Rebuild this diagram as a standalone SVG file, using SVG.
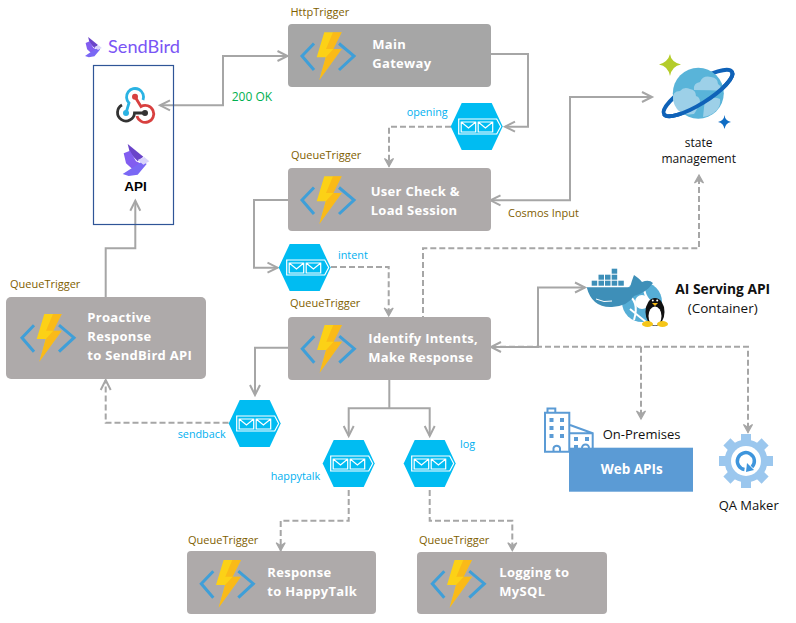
<svg xmlns="http://www.w3.org/2000/svg" xmlns:xlink="http://www.w3.org/1999/xlink" width="796" height="623" viewBox="0 0 796 623">
<style>
text{font-family:"Open Sans","Noto Sans","DejaVu Sans",sans-serif}
.box{fill:#aeaaaa}
.box2{fill:#a6a6a6}
.title{fill:#fff;font-weight:700;font-size:13px;letter-spacing:.3px}
.trig{fill:#7f6000;font-size:11px}
.q{fill:#00b0f0;font-size:10.8px}
.blk{fill:#111;font-size:12px}
.big{fill:#111;font-size:13px}
.s{fill:none;stroke:#a6a6a6;stroke-width:2}
.d{fill:none;stroke:#a6a6a6;stroke-width:2;stroke-dasharray:6 3}
</style>
<defs>
<marker id="o" markerUnits="userSpaceOnUse" markerWidth="14" markerHeight="14" refX="11" refY="6" orient="auto-start-reverse" overflow="visible"><path d="M1,1 L11,6 L1,11" fill="none" stroke="#a6a6a6" stroke-width="2"/></marker>
<marker id="a" markerUnits="userSpaceOnUse" markerWidth="14" markerHeight="14" refX="9" refY="5" orient="auto-start-reverse" overflow="visible"><path d="M1,.5 L9,5 L1,9.5 L4,5Z" fill="#a6a6a6" stroke="#a6a6a6" stroke-width="1.2"/></marker>
<g id="fn">
<path d="M26 19.500 L14 32 L26 46 M51 19.500 L66 32 L51 46" fill="none" stroke="#3f9fd8" stroke-width="3"/>
<path d="M36.300 8.300 H53.700 L45.300 25 H53.700 L31.300 56 L37.700 33.300 H28.700Z" fill="#fcd116"/>
<path d="M45 8.300 H53.700 L45.300 25 H38Z M45.300 25 H53.700 L31.300 56 L38 33Z" fill="#f7a81b" opacity=".55"/>
</g>
<g id="qu">
<path d="M-26 0 L-15 -23.500 H15 L26 0 L15 23.500 H-15Z" fill="#00bcf2"/>
<path d="M-18 -7.500 H20 L24 0 L20 7.500 H-18Z" fill="none" stroke="#fff" stroke-width="1.2"/>
<path d="M-15.500 -4.500 H-1 V5.500 H-15.500Z M-15.500 -4.500 L-8.200 1.500 L-1 -4.500 M1.500 -4.500 H16 V5.500 H1.500Z M1.500 -4.500 L8.700 1.500 L16 -4.500" fill="none" stroke="#fff" stroke-width="1.2"/>
</g>
<g id="bird">
<path d="M15 0 L62 38 L45 52 L22 28Z" fill="#6a43c9"/>
<path d="M3 28 L22 20 L40 52 L58 60 L32 78 L10 58Z" fill="#825df0"/>
<path d="M0 90 L28 72 L62 50 L72 60 L45 92 L18 96Z" fill="#7a68f5"/>
<path d="M45 48 L65 39 L80 52 L62 62Z" fill="#d9d4fb"/>
</g>
</defs>
<rect width="796" height="623" fill="#fff"/>

<g id="connectors">
<path class="s" d="M160 105.300 H223 V56 H287.500" marker-start="url(#o)" marker-end="url(#o)"/>
<path class="s" d="M491 54 H528 V126.700 H505" marker-end="url(#o)"/>
<path class="d" d="M451 126.700 H389 V166.500" marker-end="url(#a)"/>
<path class="s" d="M490.500 200.300 H570 V97 H652" marker-start="url(#o)" marker-end="url(#o)"/>
<path class="s" d="M288 200 H254 V267.700 H277.500" marker-end="url(#o)"/>
<path class="d" d="M331 267 H388.700 V316" marker-end="url(#a)"/>
<path class="d" d="M423 322 V248.300 H699 V175" marker-end="url(#a)"/>
<path class="s" d="M491 347 H538 V287.500 H585" marker-start="url(#o)" marker-end="url(#o)"/>
<path class="d" d="M500 346.800 H748 V432.500" marker-end="url(#a)"/>
<path class="d" d="M641 346.800 V419" marker-end="url(#a)"/>
<path class="s" d="M288 347.700 H255 V395" marker-end="url(#o)"/>
<path class="d" d="M228.500 422.700 H105.700 V380" marker-end="url(#o)"/>
<path class="s" d="M105.700 297 V248.300 H135.300 V200.700" marker-end="url(#o)"/>
<path class="s" d="M389.300 380 V408.300"/>
<path class="s" d="M348.700 436 V408.300 H429.700 V436" marker-start="url(#o)" marker-end="url(#o)"/>
<path class="d" d="M348.700 490 V520.700 H280.700 V550.700" marker-end="url(#a)"/>
<path class="d" d="M429.700 490 V520.700 H512.300 V550.700" marker-end="url(#a)"/>
</g>

<g id="sendbird">
<use xlink:href="#bird" href="#bird" transform="translate(85 37) scale(.21)"/>
<text x="108" y="53" font-size="18.200" fill="#7a55f5" style="font-family:Lato,'Open Sans',sans-serif">SendBird</text>
<rect x="93.500" y="65.500" width="80" height="159" fill="none" stroke="#2f5597" stroke-width="1.200"/>
<g fill="none" stroke-width="2.800">
<path d="M126 113 L129 103 A8.500 8.500 0 1 1 143 100" stroke="#2bb3e3"/>
<path d="M135 96.700 L141 106.500 A8.500 8.500 0 1 1 137 116" stroke="#d8403f"/>
<path d="M145 113 H134.500 A8.500 8.500 0 1 1 122 105" stroke="#333"/>
</g>
<circle cx="135" cy="96.700" r="3" fill="#d8403f"/><circle cx="126" cy="113" r="3" fill="#2bb3e3"/><circle cx="145" cy="113" r="3" fill="#333"/>
<use xlink:href="#bird" href="#bird" transform="translate(122.700 144) scale(.333)"/>
<text x="135.500" y="191" text-anchor="middle" font-size="13.500" font-weight="700" fill="#000" style="font-family:'Liberation Sans',sans-serif">API</text>
</g>

<g id="main-gateway">
<text class="trig" x="290.500" y="15.700">HttpTrigger</text>
<rect class="box2" x="288" y="24" width="203" height="63" rx="4"/>
<use xlink:href="#fn" href="#fn" transform="translate(288 24)"/>
<text class="title" x="372.300" y="49">Main</text><text class="title" x="372.300" y="68">Gateway</text>
</g>
<g id="user-check">
<text class="trig" x="291" y="159">QueueTrigger</text>
<rect class="box" x="288" y="168" width="203" height="63" rx="4"/>
<use xlink:href="#fn" href="#fn" transform="translate(288 168)"/>
<text class="title" x="370.700" y="195.700">User Check &amp;</text><text class="title" x="370.700" y="215">Load Session</text>
</g>
<g id="identify">
<text class="trig" x="290" y="306.700">QueueTrigger</text>
<rect class="box" x="288" y="317" width="203" height="63" rx="4"/>
<use xlink:href="#fn" href="#fn" transform="translate(288.300 316.700)"/>
<text class="title" x="368.300" y="343.300">Identify Intents,</text><text class="title" x="368.300" y="362.300">Make Response</text>
</g>
<g id="proactive">
<text class="trig" x="10" y="288">QueueTrigger</text>
<rect class="box" x="6" y="297" width="200" height="82" rx="5"/>
<use xlink:href="#fn" href="#fn" transform="translate(8 305.700)"/>
<text class="title" x="87.300" y="321.700">Proactive</text><text class="title" x="87.300" y="341">Response</text><text class="title" x="87.300" y="360">to SendBird API</text>
</g>
<g id="response-happytalk">
<text class="trig" x="188" y="544">QueueTrigger</text>
<rect class="box" x="187" y="551" width="189" height="63" rx="4"/>
<use xlink:href="#fn" href="#fn" transform="translate(187.300 551.700)"/>
<text class="title" x="267.300" y="576.700">Response</text><text class="title" x="267.300" y="595.700">to HappyTalk</text>
</g>
<g id="logging">
<text class="trig" x="419" y="544">QueueTrigger</text>
<rect class="box" x="417" y="552" width="190" height="62" rx="4"/>
<use xlink:href="#fn" href="#fn" transform="translate(418.300 551.700)"/>
<text class="title" x="499.300" y="576.700">Logging to</text><text class="title" x="499.300" y="596">MySQL</text>
</g>

<g id="queue-opening"><use xlink:href="#qu" href="#qu" transform="translate(476.700 126.500)"/><text class="q" x="406.700" y="115.700">opening</text></g>
<g id="queue-intent"><use xlink:href="#qu" href="#qu" transform="translate(304.700 267.500)"/><text class="q" x="338" y="258.700">intent</text></g>
<g id="queue-sendback"><use xlink:href="#qu" href="#qu" transform="translate(254.700 423.500)"/><text class="q" x="177.700" y="438">sendback</text></g>
<g id="queue-happytalk"><use xlink:href="#qu" href="#qu" transform="translate(348.700 463.500)"/><text class="q" x="270.700" y="480">happytalk</text></g>
<g id="queue-log"><use xlink:href="#qu" href="#qu" transform="translate(429.700 463.500)"/><text class="q" x="460" y="447.700">log</text></g>

<text x="231.700" y="100.700" font-size="12" fill="#00b050">200 OK</text>
<text class="trig" x="508" y="217">Cosmos Input</text>

<g id="state-management">
<ellipse cx="698" cy="93" rx="40" ry="11" transform="rotate(-32 698 93)" fill="none" stroke="#0f62b8" stroke-width="4"/>
<circle cx="698.300" cy="93.300" r="25.500" fill="#59b4d9"/>
<path d="M694 90 q-1 -7 6 -8 q3 -7 11 -5 q7 1 7 7 q4 3 3 7 q-9 -1 -27 -1Z" fill="#9dd0e8"/>
<path d="M673 100 q-1 -9 7 -9 q4 -5 10 -2 q6 1 6 7 q4 1 4 6 q-3 8 -6 12 q-12 2 -17 -5 q-3 -4 -4 -9Z" fill="#9dd0e8"/>
<path d="M704 108 q0 -7 6 -8 q3 -4 10 -1 q1 6 -3 11 q-6 6 -14 7Z" fill="#9dd0e8"/>
<path d="M664 114.200 A40 11 -32 0 0 732 71.800" fill="none" stroke="#0f62b8" stroke-width="4"/>
<path d="M670 54 Q671 62 681 64.500 Q672 66 670 76 Q668 66 659 64.500 Q668 62 670 54Z" fill="#b4cc2a"/>
<path d="M724.500 115 Q725 120.500 731 122 Q725.500 123 724.500 129 Q723.500 123 718 122 Q724 120.500 724.500 115Z" fill="#0f6cc4"/>
<text class="blk" x="698.700" y="146.700" text-anchor="middle">state</text>
<text class="blk" x="698.700" y="163" text-anchor="middle">management</text>
</g>

<g id="ai-serving">
<circle cx="642" cy="302" r="20" fill="#56aed6"/>
<circle cx="642" cy="302" r="7" fill="#fff"/>
<path d="M626 294 Q640 300 634 320 M644 282 Q642 300 660 308 M630 309 L646 322" fill="none" stroke="#fff" stroke-width="2"/>
<path d="M586.700 287.300 H630 Q632 280 634 275 Q640 279 642 282 Q649 279 653 283 Q646 293 634 296 Q628 306 612 307 Q592 308 586.700 287.300Z" fill="#3e8fb8"/>
<path d="M596 299 Q604 303 612 301" fill="none" stroke="#fff" stroke-width="1"/>
<g fill="#3e8fb8"><rect x="611.700" y="268.700" width="5.500" height="5"/>
<rect x="598.500" y="274.700" width="5.500" height="5"/><rect x="605" y="274.700" width="5.500" height="5"/><rect x="611.700" y="274.700" width="5.500" height="5"/>
<rect x="591.700" y="280.700" width="5.500" height="5"/><rect x="598.500" y="280.700" width="5.500" height="5"/><rect x="605" y="280.700" width="5.500" height="5"/><rect x="611.700" y="280.700" width="5.500" height="5"/><rect x="618.300" y="280.700" width="5.500" height="5"/></g>
<ellipse cx="655" cy="312" rx="9.500" ry="14" fill="#111"/>
<ellipse cx="655" cy="316" rx="6.500" ry="9.500" fill="#fff"/>
<circle cx="652.800" cy="300.500" r="1" fill="#fff"/><circle cx="657.200" cy="300.500" r="1" fill="#fff"/>
<path d="M652 303 H658 L655 306Z" fill="#f5b915"/>
<ellipse cx="647.500" cy="324" rx="5.500" ry="3" fill="#f5c518"/><ellipse cx="662.500" cy="324" rx="5.500" ry="3" fill="#f5c518"/>
<text x="722.700" y="294.300" text-anchor="middle" font-size="13.800" font-weight="700" fill="#111">AI Serving API</text>
<text x="722.700" y="313" text-anchor="middle" font-size="13.500" fill="#111">(Container)</text>
</g>

<g id="on-premises">
<g fill="none" stroke="#5b9bd5" stroke-width="2">
<path d="M545 451.700 V412.700 H569.300 V451.700Z M547.500 412.700 V408.500 H555.300 V412.700"/>
<path d="M570 425 L592.700 433.300 V451.700 M570 433.300 H592.700"/>
<path d="M553.500 451.700 V448 A3.500 3.500 0 0 1 560 448 V451.700 M582 451.700 V448 A3.500 3.500 0 0 1 589 448 V451.700"/>
</g>
<g fill="#5b9bd5"><rect x="549.500" y="418" width="4" height="4"/><rect x="560" y="418" width="4" height="4"/><rect x="549.500" y="426" width="4" height="4"/><rect x="560" y="426" width="4" height="4"/><rect x="549.500" y="434" width="4" height="4"/><rect x="560" y="434" width="4" height="4"/><rect x="574" y="437" width="4" height="4"/><rect x="585" y="437" width="4" height="4"/><rect x="574" y="445" width="4" height="4"/></g>
<rect x="569" y="447.700" width="124" height="44" fill="#5b9bd5"/>
<text x="631.700" y="474.300" text-anchor="middle" font-size="13.500" font-weight="700" fill="#fff">Web APIs</text>
<text class="big" x="602.700" y="438.700">On-Premises</text>
</g>

<g id="qa-maker">
<circle cx="746" cy="461" r="21.500" fill="#9bc7ee"/>
<g fill="#9bc7ee"><rect x="741" y="434" width="10" height="54"/><rect x="719" y="456" width="54" height="10"/><rect x="741" y="434" width="10" height="54" transform="rotate(45 746 461)"/><rect x="741" y="434" width="10" height="54" transform="rotate(-45 746 461)"/></g>
<circle cx="746" cy="461" r="15" fill="#fff"/>
<path d="M752 467 A8.500 8.500 0 1 0 744.500 469.500" fill="none" stroke="#3e95dc" stroke-width="3.500"/>
<path d="M747 463 L754 470 L746 472Z" fill="#3e95dc"/>
<text class="big" x="748.700" y="510" text-anchor="middle">QA Maker</text>
</g>
</svg>
